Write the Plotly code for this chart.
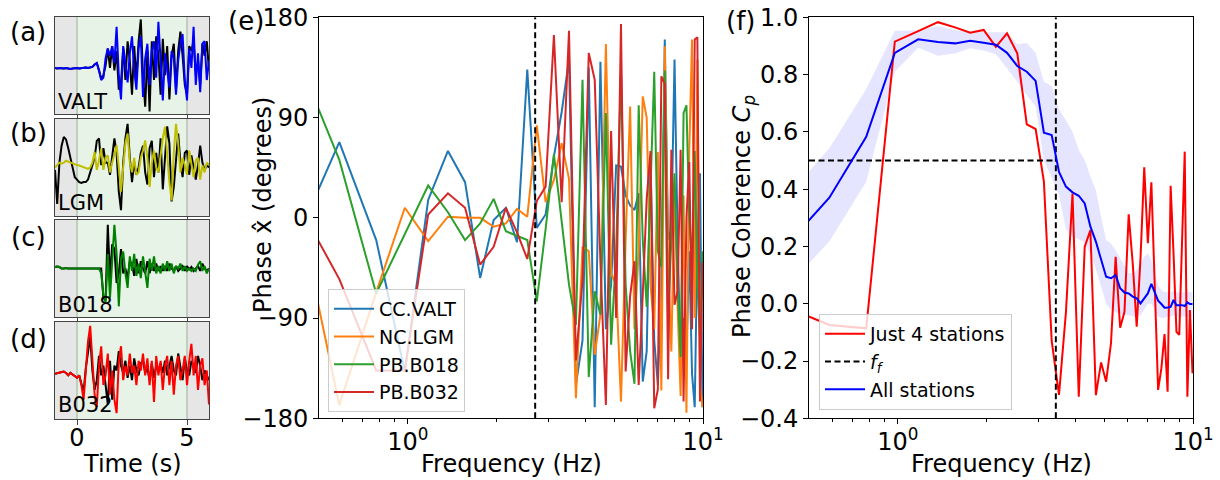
import plotly.graph_objects as go
import math

# ---------------- data ----------------
# time axis for waveforms (s), 0.1 s sampling from -1 to 6
t_start, t_step, n_t = -1.0, 0.1, 71
time = [round(t_start + i * t_step, 2) for i in range(n_t)]

valt_obs = [-0.05,-0.06,-0.05,-0.06,-0.06,-0.05,-0.06,-0.07,-0.06,-0.05,
            -0.05,-0.06,-0.05,-0.05,-0.04,-0.05,-0.04,-0.03,0.02,0.05,
            -0.10,-0.30,-0.25,0.15,0.35,0.20,0.40,0.05,0.80,-0.20,
            -0.70,0.40,0.05,-0.35,0.25,0.60,-0.10,-0.50,0.35,0.60,
            -0.65,0.15,0.45,-0.40,0.30,0.50,-0.25,0.90,0.10,-0.72,
            0.25,-0.10,-0.45,0.30,0.15,-0.60,0.10,0.45,0.65,-0.30,
            -0.72,0.35,-0.05,0.80,-0.40,0.25,-0.55,0.45,0.50,-0.30,0.10]
valt_ref = [-0.05,-0.06,-0.05,-0.06,-0.06,-0.05,-0.06,-0.07,-0.06,-0.05,
            -0.05,-0.06,-0.05,-0.05,-0.04,-0.05,-0.04,-0.03,0.02,0.05,
            -0.10,-0.28,-0.20,0.00,0.35,-0.05,0.40,-0.10,0.30,-0.50,
            -0.35,0.35,-0.30,0.50,0.10,-0.60,0.40,-0.30,0.50,0.95,
            -0.20,-0.85,0.30,-0.95,0.50,-0.30,0.60,0.20,-0.60,0.55,
            -0.20,0.40,-0.70,0.20,0.45,-0.50,0.30,0.70,0.20,-0.40,
            -0.60,0.40,0.30,0.50,-0.20,0.10,-0.40,0.45,0.20,0.50,-0.10]

lgm_obs = [0.00,0.05,0.10,0.08,0.10,0.14,0.12,0.10,0.08,0.06,
           0.05,0.04,0.02,0.00,-0.02,-0.03,0.00,0.10,0.32,-0.05,
           0.15,0.39,-0.05,0.20,0.25,-0.10,0.10,0.30,0.46,0.00,
           -0.50,0.00,0.50,0.70,0.10,-0.10,0.20,-0.15,-0.10,0.20,
           0.35,0.56,0.20,-0.40,0.10,0.35,0.00,-0.10,0.30,0.60,
           0.84,0.20,-0.30,-0.68,0.30,0.90,0.50,-0.10,0.20,0.05,
           -0.15,0.35,0.10,-0.20,0.15,0.20,-0.25,0.05,-0.10,0.10,0.05]
lgm_ref = [-0.05,-0.75,0.10,0.45,0.63,0.58,0.40,0.20,-0.05,-0.20,
           -0.25,-0.30,-0.32,-0.30,-0.30,-0.25,-0.10,0.05,0.20,0.55,
           0.60,0.05,0.40,0.10,0.10,-0.15,0.20,0.60,0.30,-0.50,
           -0.88,0.10,0.60,0.90,0.20,-0.30,0.10,-0.15,0.00,0.30,
           0.45,-0.10,-0.35,0.40,0.55,-0.20,0.30,-0.10,0.60,-0.45,
           0.20,0.85,0.50,-0.70,-0.40,0.20,0.70,0.10,-0.20,0.30,
           0.35,-0.15,0.25,0.00,-0.25,0.05,0.45,0.10,-0.05,0.05,0.00]

b018_obs = [0.03,0.04,0.03,0.00,0.00,0.01,0.00,0.00,0.01,0.00,
            0.00,0.00,0.01,0.00,0.00,0.00,0.01,0.00,0.00,0.00,
            0.00,-0.10,-0.55,-0.70,0.30,-0.60,0.20,0.90,0.30,-0.78,
            0.20,0.35,-0.10,-0.40,0.25,-0.05,0.30,-0.15,0.10,-0.20,
            0.25,-0.10,-0.40,0.20,-0.05,0.25,-0.10,0.05,-0.10,0.10,
            -0.05,0.15,-0.05,0.10,-0.10,0.05,0.00,0.10,-0.05,0.05,
            -0.05,0.00,-0.05,0.00,-0.05,0.08,0.15,-0.05,0.05,-0.10,0.00]
b018_ref = [0.03,0.04,0.03,0.00,0.00,0.01,0.00,0.00,0.01,0.00,
            0.00,0.00,0.01,0.00,0.00,0.00,0.01,0.00,0.00,0.00,
            0.00,0.00,-0.60,-0.65,0.90,-0.20,0.50,0.40,-0.30,-0.10,
            0.40,-0.10,0.00,-0.20,0.15,0.10,-0.15,0.20,-0.10,0.15,
            0.00,-0.10,0.15,-0.10,0.10,-0.05,0.10,-0.05,0.05,-0.05,
            0.05,-0.05,0.10,0.00,-0.05,0.05,-0.05,0.00,0.05,-0.05,
            0.05,-0.02,0.03,-0.05,0.00,0.05,-0.05,0.10,0.00,-0.05,0.00]

b032_obs = [-0.07,-0.06,-0.05,-0.03,-0.02,-0.05,-0.10,-0.05,-0.08,-0.12,
            -0.15,-0.10,-0.30,-0.60,0.10,0.60,0.92,0.10,-0.50,-0.75,
            0.10,0.50,-0.30,-0.10,0.35,-0.50,0.00,-0.60,-0.88,0.20,
            0.50,-0.20,0.10,-0.10,0.35,-0.05,0.10,-0.30,0.20,0.00,
            0.35,-0.10,0.25,-0.30,0.20,-0.65,0.30,-0.10,0.20,-0.40,
            0.10,0.30,-0.30,0.20,-0.50,0.10,0.30,-0.20,0.00,0.30,
            -0.30,0.20,0.55,-0.10,0.30,-0.40,0.10,0.25,-0.30,0.00,-0.70]
b032_ref = [-0.07,-0.06,-0.05,-0.03,-0.02,-0.05,-0.10,-0.05,-0.08,-0.12,
            -0.15,-0.10,-0.25,-0.45,0.05,0.40,0.70,0.00,-0.40,-0.20,
            0.30,-0.10,0.10,-0.30,-0.70,0.20,-0.60,0.10,0.00,0.40,
            0.10,-0.05,0.20,-0.15,0.10,-0.20,0.25,0.00,-0.10,0.15,
            0.20,-0.05,0.05,-0.20,0.15,-0.15,0.10,0.00,0.15,-0.05,
            0.20,-0.10,0.10,0.30,0.00,-0.10,0.35,0.10,-0.20,0.25,
            0.00,-0.10,0.20,0.10,-0.05,0.30,0.10,-0.20,0.00,-0.10,-0.20]

# frequency bins (Hz): FFT bins k = 2..51, df = 100/512 Hz
df = 100.0 / 512.0
bins = list(range(2, 52))
freq = [k * df for k in bins]

phase_valt = [-38,68,-20,-138,16,60,32,-54,-2,9,-22,133,-9,3,
              55,95,142,-150,-110,135,-170,140,-100,-60,47,46,20,11,7,22,
              -147,-120,52,-110,-150,-60,160,-20,-10,142,-20,-130,-90,-120,
              -30,-140,-170,-20,40,-170]
phase_lgm = [54,-168,-67,9,-21,1,0,0,-8,-5,8,1,83,14,
             34,67,35,-162,-26,-30,-123,-87,156,-50,-60,-165,-20,100,-100,-30,
             109,90,-60,-100,59,-155,154,-40,-120,30,-80,-160,20,-175,
             60,160,-90,142,-150,-170]
phase_b018 = [166,52,-68,-15,29,5,-20,-5,17,-12,-16,-20,-75,-10,
              57,-5,-60,-96,124,-143,-66,-87,94,-114,-30,131,-60,-120,-149,101,
              -20,-80,20,131,-30,-44,132,-89,-20,40,-60,-125,94,101,
              0,-40,60,-60,-107,-30]
phase_b032 = [30,-55,-137,-137,3,22,9,-42,-26,9,-13,-37,15,28,
              164,14,168,-128,-56,148,124,-40,-168,78,-90,174,-138,-70,-39,-150,
              -69,17,60,-171,-154,127,120,-145,61,-78,-66,61,-165,0,
              50,-100,160,162,-165,-40]

coh_four = [0.0,-0.074,-0.086,0.915,0.952,0.983,0.965,0.946,0.956,0.897,
            0.944,0.874,0.626,0.61,0.426,-0.13,-0.318,-0.03,0.385,-0.325,
            0.199,0.257,-0.319,-0.205,-0.272,-0.138,0.164,-0.084,-0.028,0.312,
            0.14,-0.08,0.16,0.476,0.211,0.424,0.06,-0.301,-0.226,-0.106,
            -0.307,0.412,0.172,-0.098,-0.109,0.19,0.531,-0.325,-0.022,-0.243]
coh_all = [0.17,0.37,0.583,0.876,0.923,0.914,0.909,0.918,0.911,0.904,
           0.876,0.83,0.81,0.778,0.597,0.589,0.46,0.409,0.389,0.377,
           0.35,0.269,0.217,0.153,0.094,0.089,0.10,0.054,0.039,0.036,
           0.025,0.019,0.001,0.019,0.036,0.069,0.036,0.011,-0.001,-0.014,
           -0.013,-0.011,0.013,-0.005,-0.005,-0.005,-0.008,0.005,-0.001,-0.001]
coh_hi = [0.334,0.543,0.75,0.953,0.955,0.97,0.955,0.95,0.948,0.948,
          0.948,0.906,0.91,0.876,0.775,0.76,0.68,0.64,0.60,0.537,
          0.502,0.444,0.397,0.304,0.222,0.21,0.187,0.158,0.129,0.106,
          0.106,0.118,0.14,0.164,0.176,0.153,0.106,0.065,0.048,0.04,
          0.04,0.04,0.045,0.04,0.04,0.04,0.04,0.045,0.04,0.04]
coh_lo = [0.023,0.217,0.426,0.81,0.894,0.866,0.874,0.892,0.884,0.871,
          0.822,0.772,0.729,0.688,0.50,0.44,0.38,0.26,0.235,0.225,
          0.215,0.17,0.12,0.06,0.0,-0.02,-0.03,-0.035,-0.04,-0.04,
          -0.045,-0.045,-0.04,-0.02,0.0,0.0,-0.02,-0.045,-0.05,-0.05,
          -0.045,-0.045,-0.04,-0.045,-0.045,-0.045,-0.045,-0.045,-0.045,-0.045]

f_cut_e = 2.7
f_cut_f = 3.43
coh_thresh = 0.5

stations = ["VALT", "LGM", "B018", "B032"]
panel_letters = ["(a)", "(b)", "(c)", "(d)"]
obs_series = [valt_obs, lgm_obs, b018_obs, b032_obs]
ref_series = [valt_ref, lgm_ref, b018_ref, b032_ref]
obs_colors = ["#0000ff", "#bfbf00", "#008000", "#ff0000"]

phase_names = ["CC.VALT", "NC.LGM", "PB.B018", "PB.B032"]
phase_series = [phase_valt, phase_lgm, phase_b018, phase_b032]
tab_colors = ["#1f77b4", "#ff7f0e", "#2ca02c", "#d62728"]

# ---------------- layout helpers ----------------
W, H = 1220, 480
FONT = "DejaVu Sans"
TICK = 24
def px(x): return x / W
def py(y): return 1 - y / H

small_x = [px(55), px(209)]
small_y = [(17, 114), (119, 216), (220, 317), (322, 419)]

fig = go.Figure()
layout = dict(width=W, height=H, margin=dict(l=0, r=0, t=0, b=0, autoexpand=False),
              plot_bgcolor="white", paper_bgcolor="white",
              font=dict(family=FONT, size=TICK, color="black"),
              showlegend=True)
shapes, annotations = [], []

def label(text, x, y, size=TICK, angle=0, xanchor="center"):
    return dict(text=text, x=px(x), y=py(y), xref="paper", yref="paper", showarrow=False,
                xanchor=xanchor, yanchor="middle", textangle=angle, font=dict(size=size))

for i in range(4):
    n = i + 1
    xa, ya = f"x{n}", f"y{n}"
    top, bot = small_y[i]
    layout[f"xaxis{n}"] = dict(domain=small_x, range=[-1, 6], anchor=ya, automargin=False,
                               showline=True, mirror=True, linecolor="#444", linewidth=1,
                               ticks="outside", tickvals=[0, 5], ticklen=5, tickcolor="#444",
                               showticklabels=(i == 3), showgrid=False, zeroline=False,
                               ticklabeloverflow="allow", ticklabelstandoff=-8,
                               tickfont=dict(size=TICK, family=FONT, color="black"))
    layout[f"yaxis{n}"] = dict(domain=[py(bot), py(top)], range=[-1, 1], anchor=xa, automargin=False,
                               showline=True, mirror=True, linecolor="#444", linewidth=1,
                               showticklabels=False, ticks="", showgrid=False, zeroline=False)
    shapes.append(dict(type="rect", xref=xa, yref=ya, x0=-1, x1=6, y0=-1, y1=1,
                       fillcolor="#e6e6e6", line=dict(width=0), layer="below"))
    shapes.append(dict(type="rect", xref=xa, yref=ya, x0=0, x1=5, y0=-1, y1=1,
                       fillcolor="#e6f3e6", line=dict(width=0), layer="below"))
    for xv in (0, 5):
        shapes.append(dict(type="line", xref=xa, yref=ya, x0=xv, x1=xv, y0=-1, y1=1,
                           line=dict(color="#b3c3b3", width=1.5), layer="below"))
    fig.add_trace(go.Scatter(x=time, y=ref_series[i], mode="lines", xaxis=xa, yaxis=ya,
                             line=dict(color="black", width=2), showlegend=False, hoverinfo="skip"))
    fig.add_trace(go.Scatter(x=time, y=obs_series[i], mode="lines", xaxis=xa, yaxis=ya,
                             line=dict(color=obs_colors[i], width=2), showlegend=False, hoverinfo="skip"))
    annotations.append(label(panel_letters[i], 28, [32, 133, 237, 339][i], size=26))
    annotations.append(label(stations[i], 56, [102, 203, 305, 405][i], size=21, xanchor="left"))

logrange = [math.log10(0.5), 1.0]
minor_vals = [0.6, 0.7, 0.8, 0.9, 2, 3, 4, 5, 6, 7, 8, 9]
def log_xaxis(dom, anchor):
    return dict(domain=dom, type="log", range=logrange, anchor=anchor, automargin=False,
                showline=True, mirror=True, linecolor="black", linewidth=1,
                ticks="outside", ticklen=5, tickcolor="black",
                tickvals=[1, 10], ticktext=["10<sup>0</sup>", "10<sup>1</sup>"],
                minor=dict(tickvals=minor_vals, ticks="outside", ticklen=3,
                           tickcolor="black", showgrid=False),
                ticklabeloverflow="allow", ticklabelstandoff=-3,
                showgrid=False, zeroline=False, tickfont=dict(size=TICK, family=FONT))

ydom = [py(418.3), py(17.3)]
layout["xaxis5"] = log_xaxis([px(319), px(703)], "y5")
layout["yaxis5"] = dict(domain=ydom, range=[-180, 180], anchor="x5", automargin=False,
                        showline=True, mirror=True, linecolor="black", linewidth=1,
                        ticks="outside", ticklen=5, tickcolor="black",
                        tickvals=[-180, -90, 0, 90, 180],
                        ticktext=["\u2212180", "\u221290", "0", "90", "180"],
                        ticklabeloverflow="allow",
                        showgrid=False, zeroline=False, tickfont=dict(size=TICK, family=FONT))
layout["xaxis6"] = log_xaxis([px(809), px(1193)], "y6")
layout["yaxis6"] = dict(domain=ydom, range=[-0.4, 1.0], anchor="x6", automargin=False,
                        showline=True, mirror=True, linecolor="black", linewidth=1,
                        ticks="outside", ticklen=5, tickcolor="black",
                        tickvals=[-0.4, -0.2, 0, 0.2, 0.4, 0.6, 0.8, 1.0],
                        ticktext=["\u22120.4", "\u22120.2", "0.0", "0.2", "0.4", "0.6", "0.8", "1.0"],
                        ticklabeloverflow="allow",
                        showgrid=False, zeroline=False, tickfont=dict(size=TICK, family=FONT))

# panel (e)
for name, vals, col in zip(phase_names, phase_series, tab_colors):
    fig.add_trace(go.Scatter(x=freq, y=vals, mode="lines", name=name, xaxis="x5", yaxis="y5",
                             line=dict(color=col, width=2), legend="legend", legendgroup=name))
fig.add_trace(go.Scatter(x=[f_cut_e, f_cut_e], y=[-180, 180], mode="lines", xaxis="x5", yaxis="y5",
                         line=dict(color="black", width=2, dash="6px,3.5px"), showlegend=False))

# panel (f)
fig.add_trace(go.Scatter(x=freq, y=coh_lo, mode="lines", xaxis="x6", yaxis="y6",
                         line=dict(width=0, color="rgba(0,0,255,0)"), showlegend=False, hoverinfo="skip"))
fig.add_trace(go.Scatter(x=freq, y=coh_hi, mode="lines", xaxis="x6", yaxis="y6", fill="tonexty",
                         fillcolor="rgba(0,0,255,0.1)", line=dict(width=0, color="rgba(0,0,255,0)"),
                         showlegend=False, hoverinfo="skip"))
fig.add_trace(go.Scatter(x=freq, y=coh_four, mode="lines", name="Just 4 stations", xaxis="x6", yaxis="y6",
                         line=dict(color="#ff0000", width=2), legend="legend2", legendgroup="g1"))
fig.add_trace(go.Scatter(x=[f_cut_f, f_cut_f], y=[-0.4, 1.0], mode="lines", name="<i>f<sub>f</sub></i>",
                         xaxis="x6", yaxis="y6", line=dict(color="black", width=2, dash="6px,3.5px"),
                         legend="legend2", legendgroup="g2"))
fig.add_trace(go.Scatter(x=[0.5, f_cut_f], y=[coh_thresh, coh_thresh], mode="lines", xaxis="x6", yaxis="y6",
                         line=dict(color="black", width=2, dash="6px,3.5px"), showlegend=False))
fig.add_trace(go.Scatter(x=freq, y=coh_all, mode="lines", name="All stations", xaxis="x6", yaxis="y6",
                         line=dict(color="#0000ff", width=2), legend="legend2", legendgroup="g3"))

leg_common = dict(font=dict(size=19, family=FONT), bgcolor="rgba(255,255,255,0.8)",
                  bordercolor="#cccccc", borderwidth=1, tracegroupgap=0,
                  xanchor="left", yanchor="top", itemwidth=40)
layout["legend"] = dict(x=px(328), y=py(289), **leg_common)
layout["legend2"] = dict(x=px(819), y=py(314), **leg_common)

# titles / labels
annotations += [
    label("(e)", 246, 21, size=26),
    label("(f)", 740, 21, size=26),
    label("Time (s)", 132, 464),
    label("Frequency (Hz)", 511, 464),
    label("Frequency (Hz)", 1001, 464),
    label("Phase x\u0302 (degrees)", 263, 205, angle=-90),
    label("Phase Coherence <i>C</i><sub><i>p</i></sub>", 743, 217, angle=-90),
]

layout["shapes"] = shapes
layout["annotations"] = annotations
fig.update_layout(**layout)
fig.write_html("out.html", config={"displayModeBar": False},
               post_script="document.body.style.margin='0';")
